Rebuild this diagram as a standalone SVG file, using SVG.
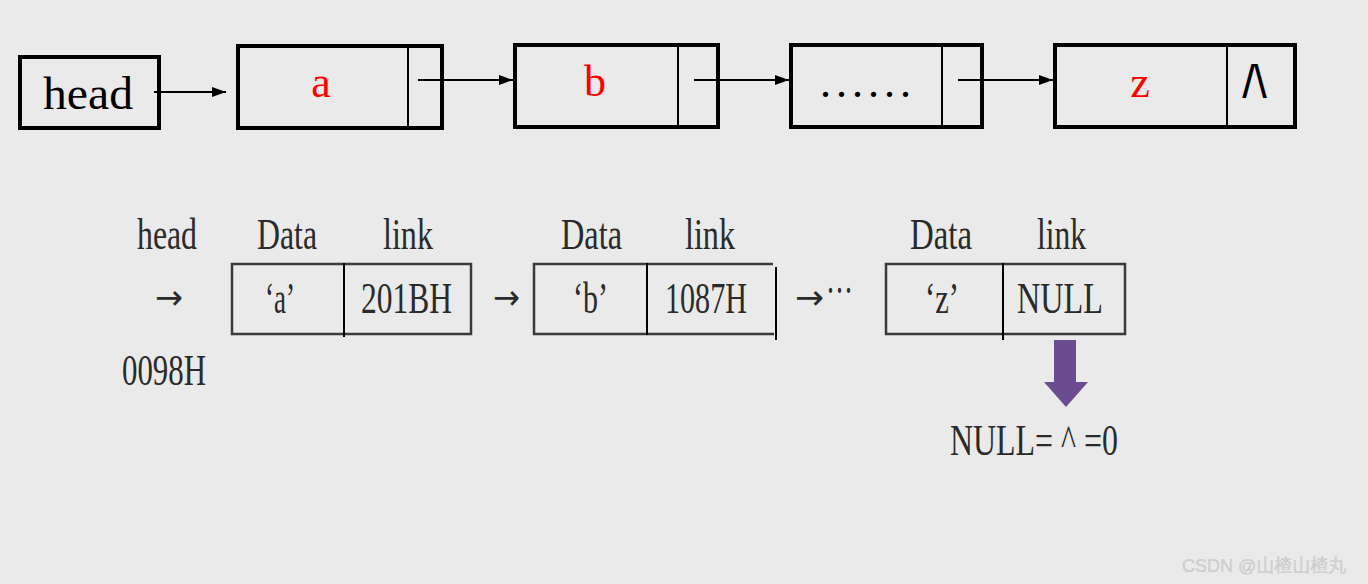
<svg xmlns="http://www.w3.org/2000/svg" width="1368" height="584" viewBox="0 0 1368 584">
<defs>
<style>
.box{fill:none;stroke:#000;stroke-width:4}
.div{stroke:#000;stroke-width:2}
.big{font-family:"Liberation Serif",serif;font-size:46px;fill:#000}
.red{font-family:"Liberation Serif",serif;font-size:44px;fill:#f00;text-anchor:middle}
.mem{font-family:"Liberation Serif",serif;font-size:44px;fill:#2a2a2a}
.arr{font-family:"DejaVu Sans",sans-serif;font-size:34px;fill:#2a2a2a}
.cell{fill:none;stroke:#3a3a3a;stroke-width:2.5}
.conn{stroke:#000;stroke-width:2;fill:none}
</style>
<marker id="ah" viewBox="0 0 14 10" refX="14" refY="5" markerWidth="14" markerHeight="10" markerUnits="userSpaceOnUse" orient="auto">
<path d="M0,0 L14,5 L0,10 z" fill="#000"/>
</marker>
</defs>
<rect width="1368" height="584" fill="#eaeaea"/>

<g id="head-node">
<rect class="box" x="20" y="57" width="139" height="71"/>
<text class="big" x="43" y="109" textLength="90" lengthAdjust="spacingAndGlyphs">head</text>
</g>
<g id="node-a">
<rect class="box" x="238" y="46" width="204" height="82"/>
<line class="div" x1="408" y1="46" x2="408" y2="128"/>
<text class="red" x="321" y="97">a</text>
</g>
<g id="node-b">
<rect class="box" x="515" y="45" width="203" height="82"/>
<line class="div" x1="678" y1="45" x2="678" y2="127"/>
<text class="red" x="595" y="96">b</text>
</g>
<g id="node-dots">
<rect class="box" x="791" y="45" width="191" height="82"/>
<line class="div" x1="942" y1="45" x2="942" y2="127"/>
<text class="big" x="820" y="97" style="font-size:44px;letter-spacing:5px">......</text>
</g>
<g id="node-z">
<rect class="box" x="1055" y="45" width="240" height="82"/>
<line class="div" x1="1227" y1="45" x2="1227" y2="127"/>
<text class="red" x="1140" y="97">z</text>
<text x="1254" y="98" style="font-family:'Liberation Sans',sans-serif;font-size:46px;fill:#000;text-anchor:middle;letter-spacing:-1px">/\</text>
</g>

<g id="connectors">
<line class="conn" x1="154" y1="92" x2="226" y2="92" marker-end="url(#ah)"/>
<line class="conn" x1="418" y1="80" x2="513" y2="80" marker-end="url(#ah)"/>
<line class="conn" x1="694" y1="80" x2="789" y2="80" marker-end="url(#ah)"/>
<line class="conn" x1="958" y1="80" x2="1053" y2="80" marker-end="url(#ah)"/>
</g>

<g id="mem-head">
<text class="mem" x="137" y="249" textLength="60" lengthAdjust="spacingAndGlyphs">head</text>
<text class="arr" x="155" y="309" textLength="28" lengthAdjust="spacingAndGlyphs">→</text>
<text class="mem" x="122" y="385" textLength="84" lengthAdjust="spacingAndGlyphs">0098H</text>
</g>
<g id="mem-node-a">
<text class="mem" x="257" y="249" textLength="60" lengthAdjust="spacingAndGlyphs">Data</text>
<text class="mem" x="383" y="249" textLength="50" lengthAdjust="spacingAndGlyphs">link</text>
<rect class="cell" x="232" y="264" width="239" height="70"/>
<line class="div" x1="344" y1="263" x2="344" y2="337"/>
<text class="mem" x="265" y="313" textLength="30" lengthAdjust="spacingAndGlyphs">‘a’</text>
<text class="mem" x="361" y="313" textLength="91" lengthAdjust="spacingAndGlyphs">201BH</text>
<text class="arr" x="493" y="309" textLength="27" lengthAdjust="spacingAndGlyphs">→</text>
</g>
<g id="mem-node-b">
<text class="mem" x="561" y="249" textLength="61" lengthAdjust="spacingAndGlyphs">Data</text>
<text class="mem" x="685" y="249" textLength="50" lengthAdjust="spacingAndGlyphs">link</text>
<path class="cell" d="M773,264 H534 V334 H774"/>
<line class="div" x1="776" y1="267" x2="776" y2="340"/>
<line class="div" x1="647" y1="263" x2="647" y2="335"/>
<text class="mem" x="573" y="313" textLength="35" lengthAdjust="spacingAndGlyphs">‘b’</text>
<text class="mem" x="665" y="313" textLength="82" lengthAdjust="spacingAndGlyphs">1087H</text>
<text class="arr" x="795" y="309" textLength="29" lengthAdjust="spacingAndGlyphs">→</text>
<text class="mem" x="826" y="305" textLength="27" lengthAdjust="spacingAndGlyphs">···</text>
</g>
<g id="mem-node-z">
<text class="mem" x="910" y="249" textLength="62" lengthAdjust="spacingAndGlyphs">Data</text>
<text class="mem" x="1037" y="249" textLength="49" lengthAdjust="spacingAndGlyphs">link</text>
<rect class="cell" x="886" y="264" width="239" height="70"/>
<line class="div" x1="1003" y1="263" x2="1003" y2="340"/>
<text class="mem" x="925" y="313" textLength="34" lengthAdjust="spacingAndGlyphs">‘z’</text>
<text class="mem" x="1017" y="313" textLength="86" lengthAdjust="spacingAndGlyphs">NULL</text>
</g>
<g id="null-arrow">
<path d="M1054,340 H1076 V382 H1088 L1066,407 L1044,382 H1054 Z" fill="#6b4c90"/>
</g>
<g id="null-label">
<text class="mem" x="950" y="455" textLength="168" lengthAdjust="spacingAndGlyphs">NULL= ^ =0</text>
</g>
<text x="1182" y="572" style="font-family:'Liberation Sans','Noto Sans CJK SC',sans-serif;font-size:18px;fill:#d2d2d2;stroke:#b5b5b5;stroke-width:0.2">CSDN @山楂山楂丸</text>
</svg>
